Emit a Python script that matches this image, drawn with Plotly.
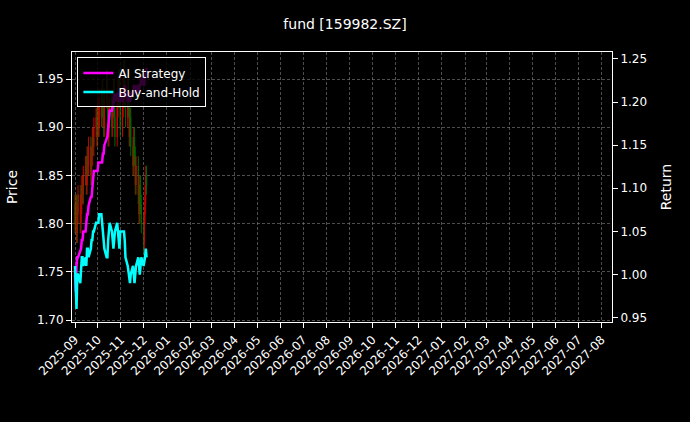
import pandas as pd
import plotly.graph_objects as go

dates = pd.bdate_range("2025-09-01", periods=70)

close = [1.80, 1.82, 1.79, 1.81, 1.83, 1.80, 1.82, 1.84, 1.83, 1.85, 1.86, 1.84, 1.87, 1.86, 1.88, 1.85, 1.87, 1.89, 1.88, 1.90, 1.91, 1.89,
         1.92, 1.90, 1.93, 1.91, 1.94, 1.92, 1.90, 1.93, 1.95, 1.92, 1.89, 1.91, 1.93, 1.90, 1.92, 1.94, 1.91, 1.89, 1.92, 1.94, 1.95, 1.93, 1.90,
         1.92, 1.94, 1.96, 1.93, 1.91, 1.94, 1.92, 1.89, 1.91, 1.88, 1.86, 1.89, 1.87, 1.84, 1.86, 1.83, 1.81, 1.84, 1.82, 1.80,
         1.78, 1.81, 1.83, 1.85, 1.84]
open_ = [1.82] + close[:-1]

ai_strategy = [1.00, 0.98, 1.01, 1.02, 1.02, 1.03, 1.03, 1.04, 1.04, 1.05, 1.05, 1.06, 1.07, 1.07, 1.08, 1.09, 1.09, 1.10, 1.11, 1.12, 1.12, 1.12,
               1.12, 1.13, 1.13, 1.13, 1.13, 1.14, 1.14, 1.15, 1.16, 1.16, 1.17, 1.18, 1.19, 1.19, 1.20, 1.20, 1.21, 1.20, 1.21, 1.21, 1.20, 1.21, 1.20,
               1.21, 1.20, 1.21, 1.22, 1.21, 1.20, 1.21, 1.21, 1.20, 1.21, 1.21, 1.22, 1.21, 1.22, 1.21, 1.22, 1.21, 1.22, 1.22, 1.23,
               1.22, 1.22, 1.23, 1.23, 1.24]
buy_hold = [1.01, 0.99, 0.96, 1.00, 1.00, 0.99, 1.01, 1.02, 1.02, 1.01, 1.02, 1.01, 1.03, 1.03, 1.02, 1.03, 1.04, 1.04, 1.05, 1.05, 1.06, 1.06,
            1.06, 1.06, 1.07, 1.07, 1.06, 1.05, 1.04, 1.03, 1.02, 1.02, 1.04, 1.05, 1.06, 1.05, 1.04, 1.03, 1.04, 1.05, 1.06, 1.05, 1.04, 1.03, 1.05,
            1.05, 1.05, 1.05, 1.04, 1.02, 1.01, 1.00, 0.99, 0.99, 1.00, 1.01, 1.00, 0.99, 1.00, 1.01, 1.02, 1.01, 1.00, 1.01, 1.02,
            1.01, 1.02, 1.02, 1.03, 1.02]

high = [max(o, c) + 0.01 for o, c in zip(open_, close)]
low = [min(o, c) - 0.01 for o, c in zip(open_, close)]

fig = go.Figure()
fig.add_trace(go.Candlestick(x=dates, open=open_, high=high, low=low, close=close,
                             increasing=dict(line=dict(color="red", width=1), fillcolor="red"),
                             decreasing=dict(line=dict(color="green", width=1), fillcolor="green"),
                             opacity=0.8, showlegend=False))
fig.add_trace(go.Scatter(x=dates, y=ai_strategy, name="AI Strategy", yaxis="y2",
                         line=dict(color="magenta", width=2.5)))
fig.add_trace(go.Scatter(x=dates, y=buy_hold, name="Buy-and-Hold", yaxis="y2",
                         line=dict(color="cyan", width=2.5)))

axis = dict(showline=True, linecolor="white", ticks="outside", tickcolor="white",
            color="white", zeroline=False)
grid = dict(showgrid=True, gridcolor="rgba(128,128,128,0.6)", griddash="3px,2px", gridwidth=0.5)
fig.update_layout(
    width=690, height=422, paper_bgcolor="black", plot_bgcolor="black",
    font=dict(family="DejaVu Sans", size=12, color="white"),
    title=dict(text="fund [159982.SZ]", x=0.5, y=0.955, font=dict(size=14)),
    margin=dict(l=70, r=78, t=52, b=100),
    xaxis=dict(**axis, **grid, range=["2025-08-28", "2027-08-15"], dtick="M1", tick0="2025-09-01",
               tickformat="%Y-%m", tickangle=-45, rangeslider=dict(visible=False), mirror=True),
    yaxis=dict(**axis, **grid, title="Price", range=[1.698, 1.978], dtick=0.05, tickformat=".2f"),
    yaxis2=dict(**axis, showgrid=False, title="Return", overlaying="y", side="right",
                range=[0.945, 1.258], dtick=0.05, tickformat=".2f"),
    legend=dict(x=0.01, y=0.98, bgcolor="rgba(0,0,0,0.8)", bordercolor="white", borderwidth=1,
                font=dict(color="white", size=12)),
)
fig.write_html("out.html", config={"displayModeBar": False},
               post_script="document.body.style.margin='0';document.body.style.background='black';")
